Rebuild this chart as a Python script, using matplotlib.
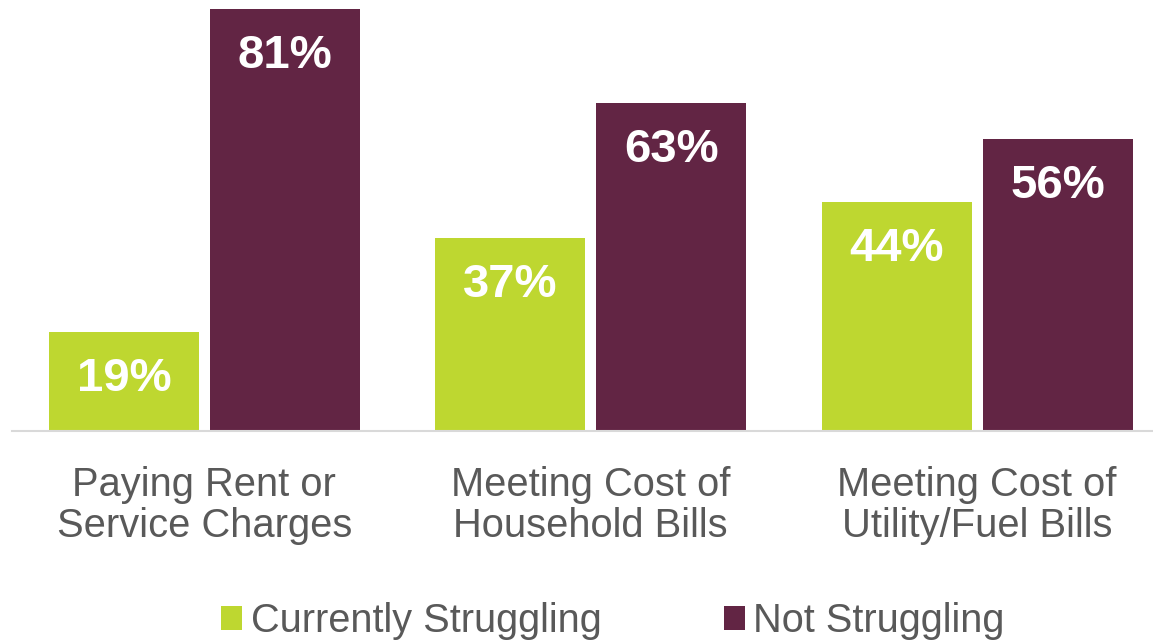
import numpy as np
import matplotlib.pyplot as plt

categories = ["Paying Rent or\nService Charges", "Meeting Cost of\nHousehold Bills", "Meeting Cost of\nUtility/Fuel Bills"]
struggling = [19, 37, 44]
not_struggling = [81, 63, 56]
series_names = ["Currently Struggling", "Not Struggling"]

green = "#bed730"
purple = "#622544"
grey = "#595959"

plt.rcParams['font.family'] = ['Liberation Sans', 'DejaVu Sans']

fig = plt.figure(figsize=(11.53, 6.41), dpi=100)
ax = fig.add_axes([12/1153, 210/641, 1141/1153, 431/641])

x = np.arange(len(categories))
w = 0.388
off = 0.2085
b1 = ax.bar(x - off, struggling, w, color=green, label=series_names[0])
b2 = ax.bar(x + off, not_struggling, w, color=purple, label=series_names[1])

for bars in (b1, b2):
    for r in bars:
        ax.annotate(f"{r.get_height():.0f}%", (r.get_x() + r.get_width()/2, r.get_height()),
                    xytext=(0, -34), textcoords="offset points", ha="center", va="center",
                    color="white", fontsize=34, fontweight="bold")

ax.set_xlim(-0.498, 2.455)
ax.set_ylim(0, 82.7)
ax.set_yticks([])
for s in ["top", "right", "left"]:
    ax.spines[s].set_visible(False)
ax.spines["bottom"].set_color("#d9d9d9")
ax.spines["bottom"].set_linewidth(1.5)
ax.set_xticks(x)
ax.set_xticklabels(categories, fontsize=28.7, color=grey, linespacing=1.1)
ax.tick_params(axis="x", length=0, pad=25)

fig.legend(handles=[b1, b2], loc="center", bbox_to_anchor=(613/1153, 1 - 621/641),
           ncol=2, frameon=False, fontsize=28.6, labelcolor=grey,
           handlelength=0.53, handleheight=0.53, handletextpad=0.22, columnspacing=3.07)

fig.savefig("out.png", dpi=100)
